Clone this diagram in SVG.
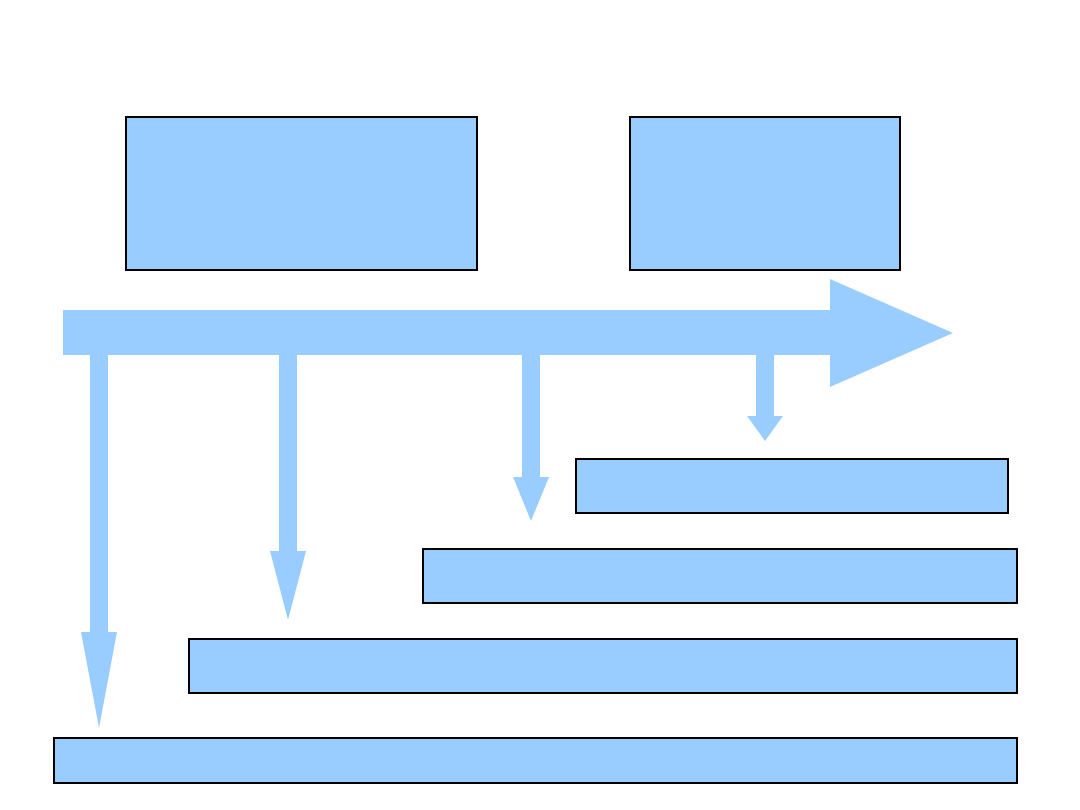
<svg xmlns="http://www.w3.org/2000/svg" width="1080" height="810" viewBox="0 0 1080 810">
<style>
.box{fill:#99CCFF;stroke:#000;stroke-width:2}
.arr{fill:#99CCFF;stroke:none}
</style>
<rect width="1080" height="810" fill="#fff"/>
<g id="connectors">
<polygon id="main-arrow" class="arr" points="63,310 830,310 830,279 953,333 830,387 830,355 63,355"/>
<polygon id="branch1" class="arr" points="90,355 108,355 108,632 117,632 99,728 81,632 90,632"/>
<polygon id="branch2" class="arr" points="279,355 297,355 297,551 306,551 288,620 270,551 279,551"/>
<polygon id="branch3" class="arr" points="522,355 540,355 540,477 549,477 531,521 513,477 522,477"/>
<polygon id="branch4" class="arr" points="756,355 774,355 774,416 783,416 765,441 747,416 756,416"/>
</g>
<g id="node1"><rect class="box" x="126" y="117" width="351" height="153"/></g>
<g id="node2"><rect class="box" x="630" y="117" width="270" height="153"/></g>
<g id="node3"><rect class="box" x="576" y="459" width="432" height="54"/></g>
<g id="node4"><rect class="box" x="423" y="549" width="594" height="54"/></g>
<g id="node5"><rect class="box" x="189" y="639" width="828" height="54"/></g>
<g id="node6"><rect class="box" x="54" y="738" width="963" height="45"/></g>
</svg>
